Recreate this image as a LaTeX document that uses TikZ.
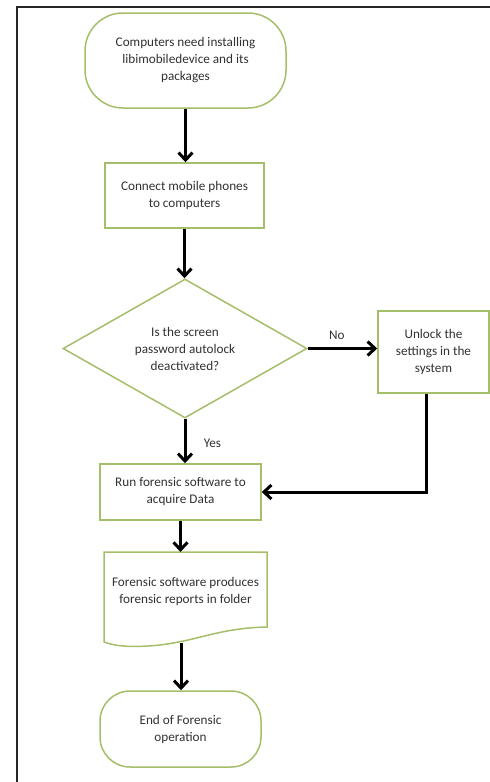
\documentclass[tikz,border=0pt]{standalone}
\usepackage{fontspec}
\setmainfont{Carlito}
\usetikzlibrary{shapes.geometric,arrows.meta}
\definecolor{boxgreen}{RGB}{165,190,105}
\definecolor{txt}{RGB}{50,50,50}
\tikzset{
  box/.style={draw=boxgreen, line width=1.5pt, fill=white, text=txt, align=center,
    font=\fontsize{13.2}{17}\selectfont, inner sep=0pt},
  lbl/.style={text=txt, font=\fontsize{13.2}{17}\selectfont},
  arr/.style={line width=3pt, -{Straight Barb[length=7.5pt,width=14pt]}},
}
\begin{document}
\begin{tikzpicture}[x=1pt,y=-1pt]
\useasboundingbox (0,0) rectangle (490,782);
% frame
\coordinate (fTR) at (490,7);
\coordinate (fTL) at (17,7);
\coordinate (fBL) at (17,782);
\draw[line width=1.4pt, black!85] (fTR) -- (fTL) -- (fBL);

\node[box, rectangle, rounded corners=38pt, minimum width=201pt, minimum height=95pt] (start) at (185.5,60.5)
  {Computers need installing\\libimobiledevice and its\\packages};
\node[box, rectangle, minimum width=159pt, minimum height=65pt] (conn) at (184.5,195.5)
  {Connect mobile phones\\to computers};
\node[box, diamond, aspect=1.75, minimum width=244pt, minimum height=139pt] (dia) at (185,348.5)
  {Is the screen\\password autolock\\deactivated?};
\node[box, rectangle, minimum width=111pt, minimum height=82pt] (unlock) at (433.5,352)
  {Unlock the\\settings in the\\system};
\node[box, rectangle, minimum width=161pt, minimum height=56pt] (run) at (180.5,492)
  {Run forensic software to\\acquire Data};
% document shape
\coordinate (dNW) at (104,552);
\coordinate (dNE) at (267,552);
\coordinate (dSE) at (267,627);
\coordinate (dSW) at (104,642);
\draw[draw=boxgreen, line width=1.5pt, fill=white] (dNW) -- (dNE) -- (dSE)
  .. controls (220,628) and (200,640) .. (160,645)
  .. controls (130,648) and (115,646) .. (dSW) -- cycle;
\node[lbl, align=center] (doc) at (185.5,591) {Forensic software produces\\forensic reports in folder};
\coordinate (docTop) at (184,552);
\coordinate (docBot) at (181,643);
\node[box, rectangle, rounded corners=30pt, minimum width=161pt, minimum height=76pt] (end) at (180.5,729)
  {End of Forensic\\operation};

% connectors
\draw[arr] (start.south) -- (start.south |- conn.north);
\draw[arr] (conn.south) -- (conn.south |- dia.north);
\draw[arr] (dia.east) -- (unlock.west |- dia.east) node[lbl, pos=0.42, above=4pt] (no) {No};
\draw[arr] (dia.south) -- (dia.south |- run.north) node[lbl, pos=0.55, right=14pt] (yes) {Yes};
\draw[arr] ([xshift=-7pt]unlock.south) |- (run.east);
\draw[arr] (run.south) -- (run.south |- docTop);
\draw[arr] (docBot) -- (docBot |- end.north);
\end{tikzpicture}
\end{document}
